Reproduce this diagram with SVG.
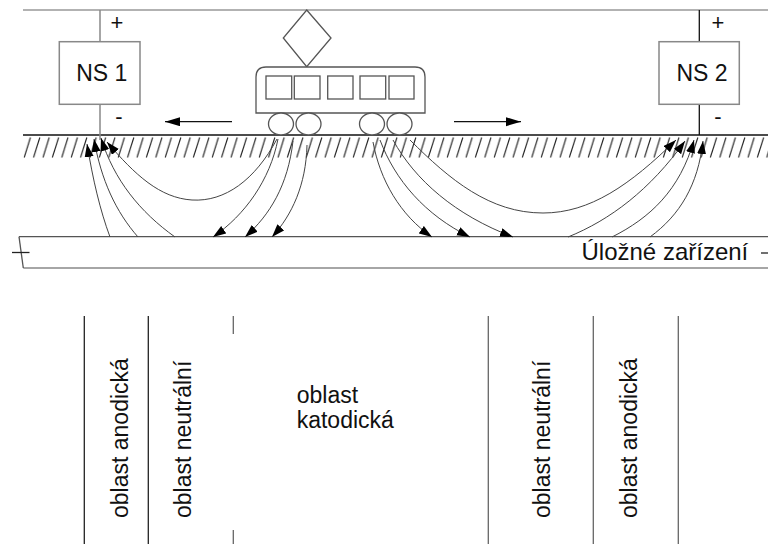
<svg xmlns="http://www.w3.org/2000/svg" width="768" height="544" viewBox="0 0 768 544">
  <style>
    .txt { font-family: "Liberation Sans", Arial, sans-serif; fill: #111; }
    .wire { stroke: #999; stroke-width: 1.5; fill: none; }
    .box { fill: #fff; stroke: #888; stroke-width: 1.5; }
    .tram { fill: #fff; stroke: #555; stroke-width: 1.3; }
    .cur { stroke: #444; stroke-width: 1; fill: none; marker-end: url(#head); }
    .zone { stroke: #222; stroke-width: 1.3; }
    .zoneg { stroke: #666; stroke-width: 1.3; }
    .sign { font-size: 22px; }
  </style>
  <defs>
    <marker id="head" markerUnits="userSpaceOnUse" markerWidth="14" markerHeight="10" refX="13" refY="4.5" orient="auto">
      <path d="M0,0 L13,4.5 L0,9 Z" fill="#000"/>
    </marker>
    <marker id="dir" markerUnits="userSpaceOnUse" markerWidth="16" markerHeight="10" refX="15" refY="4.5" orient="auto">
      <path d="M0,0 L15,4.5 L0,9 Z" fill="#000"/>
    </marker>
    <pattern id="hatch" patternUnits="userSpaceOnUse" x="23" y="137" width="9.4" height="21">
      <line x1="1.2" y1="20.5" x2="7.4" y2="0.5" stroke="#222" stroke-width="1.1"/>
    </pattern>
  </defs>

  <!-- overhead contact wire -->
  <line class="wire" x1="23" y1="10" x2="768" y2="10"/>

  <!-- ground surface with hatching -->
  <rect x="23" y="137" width="745" height="21" fill="url(#hatch)"/>
  <line x1="23" y1="135" x2="768" y2="135" stroke="#111" stroke-width="1.3"/>

  <!-- buried structure -->
  <g id="pipe">
    <line x1="19" y1="236.7" x2="768" y2="236.7" stroke="#555" stroke-width="1.3"/>
    <line x1="23.3" y1="268" x2="768" y2="268" stroke="#888" stroke-width="1.3"/>
    <line x1="19" y1="236.7" x2="23.3" y2="268" stroke="#555" stroke-width="1.3"/>
    <line x1="12" y1="252.5" x2="29.5" y2="252.5" stroke="#222" stroke-width="1.3"/>
    <line x1="761" y1="253" x2="768" y2="253" stroke="#222" stroke-width="1.3"/>
    <text class="txt" x="581.5" y="259.5" font-size="24">Úložné zařízení</text>
  </g>

  <!-- substation 1 -->
  <g id="ns1">
    <line x1="100" y1="10" x2="100" y2="41.7" stroke="#888" stroke-width="1.5"/>
    <line x1="100" y1="104.3" x2="100" y2="140" stroke="#888" stroke-width="1.5"/>
    <rect class="box" x="59.3" y="41.7" width="80.7" height="62.6"/>
    <text class="txt" x="101.8" y="81" font-size="23" text-anchor="middle">NS 1</text>
    <text class="txt sign" x="117" y="30" text-anchor="middle">+</text>
    <text class="txt sign" x="119" y="124" text-anchor="middle">-</text>
  </g>

  <!-- substation 2 -->
  <g id="ns2">
    <line x1="699.3" y1="10" x2="699.3" y2="41.7" stroke="#111" stroke-width="1.3"/>
    <line x1="699.3" y1="104.3" x2="699.3" y2="135" stroke="#111" stroke-width="1.3"/>
    <rect class="box" x="659" y="41.7" width="80.3" height="62.6"/>
    <text class="txt" x="702" y="81" font-size="23" text-anchor="middle">NS 2</text>
    <text class="txt sign" x="718" y="30" text-anchor="middle">+</text>
    <text class="txt sign" x="718" y="124" text-anchor="middle">-</text>
  </g>

  <!-- tram -->
  <g id="tram">
    <polygon class="tram" points="306.7,10 331,38 306.7,66.7 283.3,38"/>
    <path class="tram" d="M256,113 L256,77 Q256,67 266,67 L415,67 Q425,67 425,77 L425,113 Z"/>
    <rect class="tram" x="266" y="76" width="25.7" height="23"/>
    <rect class="tram" x="294.3" y="76" width="25.7" height="23"/>
    <rect class="tram" x="327.7" y="76" width="25.3" height="23"/>
    <rect class="tram" x="360" y="76" width="25.7" height="23"/>
    <rect class="tram" x="389" y="76" width="25" height="23"/>
    <ellipse class="tram" cx="281" cy="124" rx="12.5" ry="11"/>
    <ellipse class="tram" cx="308.5" cy="124" rx="12.5" ry="11"/>
    <ellipse class="tram" cx="372" cy="124" rx="12.5" ry="11"/>
    <ellipse class="tram" cx="399.5" cy="124" rx="12.5" ry="11"/>
  </g>

  <!-- travel direction -->
  <g id="direction">
    <line x1="232" y1="121.7" x2="165" y2="121.7" stroke="#111" stroke-width="1.2" marker-end="url(#dir)"/>
    <line x1="454" y1="121.7" x2="521" y2="121.7" stroke="#111" stroke-width="1.2" marker-end="url(#dir)"/>
  </g>

  <!-- stray current paths -->
  <g id="currents">
    <!-- into NS 1 -->
    <path class="cur" d="M110,237 C100,210 93,180 87,144"/>
    <path class="cur" d="M138,237 C116,212 101,180 94,139"/>
    <path class="cur" d="M175,237 C140,212 114,180 101,138"/>
    <path class="cur" d="M277,139 C255,180 225,202 192,200 C160,198 135,175 107,142"/>
    <!-- left bogie into the structure -->
    <path class="cur" d="M278,139 C270,180 245,215 213,237"/>
    <path class="cur" d="M293,141 C288,185 270,215 245,237"/>
    <path class="cur" d="M307,145 C306,185 292,215 272,237"/>
    <!-- right bogie into the structure -->
    <path class="cur" d="M373,142 C380,180 400,215 432,237"/>
    <path class="cur" d="M380,140 C395,180 425,215 470,237"/>
    <path class="cur" d="M393,140 C415,180 455,215 513,237"/>
    <path class="cur" d="M410,140 C450,180 490,213 543,213 C590,213 630,185 676,140"/>
    <!-- into NS 2 -->
    <path class="cur" d="M568,237 C610,220 650,190 685,141"/>
    <path class="cur" d="M612,237 C650,218 680,190 694,140"/>
    <path class="cur" d="M650,237 C680,215 698,185 703,141"/>
  </g>

  <!-- zone boundaries -->
  <g id="zones">
    <line class="zone" x1="84.3" y1="316" x2="84.3" y2="544"/>
    <line class="zone" x1="148.3" y1="316" x2="148.3" y2="544"/>
    <line class="zoneg" x1="233.3" y1="316" x2="233.3" y2="334"/>
    <line class="zoneg" x1="233.3" y1="530" x2="233.3" y2="544"/>
    <line class="zoneg" x1="488.3" y1="316" x2="488.3" y2="544"/>
    <line class="zoneg" x1="593.3" y1="316" x2="593.3" y2="544"/>
    <line class="zoneg" x1="678.3" y1="316" x2="678.3" y2="544"/>
  </g>

  <!-- zone labels -->
  <g id="labels">
    <text class="txt" font-size="23" transform="translate(128,518) rotate(-90)">oblast anodická</text>
    <text class="txt" font-size="23" transform="translate(191,518) rotate(-90)">oblast neutrální</text>
    <text class="txt" font-size="23" x="296.7" y="403">oblast</text>
    <text class="txt" font-size="23" x="296.7" y="428">katodická</text>
    <text class="txt" font-size="23" transform="translate(550,518) rotate(-90)">oblast neutrální</text>
    <text class="txt" font-size="23" transform="translate(637,518) rotate(-90)">oblast anodická</text>
  </g>
</svg>
